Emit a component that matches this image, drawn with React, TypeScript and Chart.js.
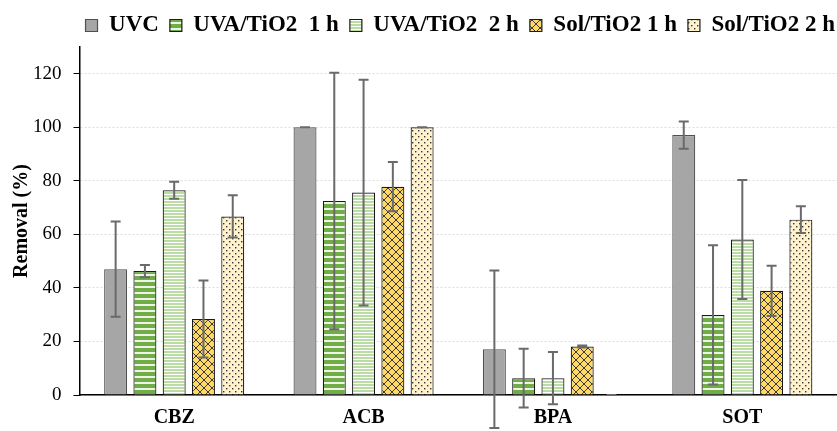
import React, { useEffect, useRef } from "react";
import { Chart, registerables } from "chart.js";

Chart.register(...registerables);

const categories = ["CBZ", "ACB", "BPA", "SOT"];
const seriesNames = ["UVC", "UVA/TiO2  1 h", "UVA/TiO2  2 h", "Sol/TiO2 1 h", "Sol/TiO2 2 h"];
const uvc = [47, 100, 17.1, 97.1];
const uvcErr = [17.8, 0, 29.4, 5.1];
const uva1 = [46.3, 72.5, 6.3, 29.9];
const uva1Err = [2.3, 47.9, 11, 26];
const uva2 = [76.5, 75.6, 6.3, 58.1];
const uva2Err = [3.2, 42.2, 9.8, 22.2];
const sol1 = [28.4, 77.8, 18.1, 38.9];
const sol1Err = [14.4, 9.2, 0.4, 9.4];
const sol2 = [66.7, 100, 0, 65.5];
const sol2Err = [7.9, 0, 0, 5];
const yTicks = [0, 20, 40, 60, 80, 100, 120];

const FONT = "'Liberation Serif', 'Times New Roman', serif";

function makePattern(kind: string): CanvasPattern | string {
  const c = document.createElement("canvas");
  const ctx = c.getContext("2d")!;
  if (kind === "uva1") {
    c.width = 6; c.height = 6;
    ctx.fillStyle = "#70ad47"; ctx.fillRect(0, 0, 6, 6);
    ctx.fillStyle = "#eef5e8"; ctx.fillRect(0, 4, 6, 2);
  } else if (kind === "uva2") {
    c.width = 3; c.height = 3;
    ctx.fillStyle = "#ffffff"; ctx.fillRect(0, 0, 3, 3);
    ctx.fillStyle = "#bcdca6"; ctx.fillRect(0, 0, 3, 2);
  } else if (kind === "sol1") {
    c.width = 8; c.height = 8;
    ctx.fillStyle = "#ffd966"; ctx.fillRect(0, 0, 8, 8);
    ctx.strokeStyle = "#3a3a3a"; ctx.lineWidth = 1;
    ctx.beginPath();
    ctx.moveTo(-1, -1); ctx.lineTo(9, 9);
    ctx.moveTo(9, -1); ctx.lineTo(-1, 9);
    ctx.stroke();
  } else {
    c.width = 6; c.height = 6;
    ctx.fillStyle = "#fff2cc"; ctx.fillRect(0, 0, 6, 6);
    ctx.fillStyle = "#333333";
    ctx.fillRect(1, 1, 1.4, 1.4);
    ctx.fillRect(4, 4, 1.4, 1.4);
  }
  return ctx.createPattern(c, "repeat")!;
}

const errorBarPlugin = {
  id: "errorBars",
  afterLayout(chart: any) {
    // nudge legend to sit flush with the right edge like the reference
    if (chart.legend) {
      chart.legend.left += 9;
      chart.legend.right += 9;
    }
  },
  afterDatasetsDraw(chart: any) {
    const ctx = chart.ctx;
    const yScale = chart.scales.y;
    ctx.save();
    ctx.strokeStyle = "#6a6a6a";
    ctx.lineWidth = 2;
    chart.data.datasets.forEach((ds: any, di: number) => {
      const meta = chart.getDatasetMeta(di);
      meta.data.forEach((bar: any, i: number) => {
        const v = ds.data[i];
        const e = ds.errors[i];
        const x = bar.x;
        const yTop = yScale.getPixelForValue(v + e);
        const yBot = yScale.getPixelForValue(v - e);
        const cap = 5;
        ctx.beginPath();
        ctx.moveTo(x, yTop); ctx.lineTo(x, yBot);
        ctx.moveTo(x - cap, yTop); ctx.lineTo(x + cap, yTop);
        ctx.moveTo(x - cap, yBot); ctx.lineTo(x + cap, yBot);
        ctx.stroke();
      });
    });
    ctx.restore();
  },
};

export default function App() {
  const ref = useRef<HTMLCanvasElement>(null);
  useEffect(() => {
    const values = [uvc, uva1, uva2, sol1, sol2];
    const errs = [uvcErr, uva1Err, uva2Err, sol1Err, sol2Err];
    const fills = ["#a6a6a6", makePattern("uva1"), makePattern("uva2"), makePattern("sol1"), makePattern("sol2")];
    const borders = ["#505050", "#1a1a1a", "#1a1a1a", "#1a1a1a", "#1a1a1a"];
    const chart = new Chart(ref.current!, {
      type: "bar",
      data: {
        labels: categories,
        datasets: seriesNames.map((name, k) => ({
          label: name,
          data: values[k],
          errors: errs[k],
          backgroundColor: fills[k],
          borderColor: borders[k],
          borderWidth: 1.2,
          categoryPercentage: 0.773,
          barPercentage: 0.785,
        })) as any,
      },
      options: {
        animation: false,
        responsive: true,
        maintainAspectRatio: false,
        layout: { padding: { left: 0, right: 0, top: 3, bottom: -2 } },
        plugins: {
          tooltip: { enabled: false },
          legend: {
            position: "top",
            align: "end",
            labels: {
              boxWidth: 12,
              boxHeight: 12,
              padding: 11,
              color: "#000",
              font: { family: FONT, size: 23, weight: "bold" },
            },
          },
        },
        scales: {
          x: {
            grid: { display: false },
            border: { display: true, color: "#000", width: 1.5 },
            ticks: { color: "#000", padding: 3, font: { family: FONT, size: 20, weight: "bold" } },
          },
          y: {
            min: 0,
            max: 130,
            afterBuildTicks: (axis: any) => {
              axis.ticks = yTicks.map((v) => ({ value: v }));
            },
            grid: { color: "#dcdcdc", tickColor: "#000", tickLength: 6, lineWidth: 1 },
            border: { display: true, color: "#000", width: 1.5, dash: [2, 2] },
            ticks: { color: "#000", padding: 12, font: { family: FONT, size: 19 } },
            title: {
              display: true,
              text: "Removal (%)",
              color: "#000",
              padding: { top: 12, bottom: -11 },
              font: { family: FONT, size: 20, weight: "bold", lineHeight: 1 },
            },
          },
        },
      },
      plugins: [errorBarPlugin],
    });
    return () => chart.destroy();
  }, []);
  return (
    <div style={{ position: "fixed", left: 0, top: 0, width: 837, height: 431, background: "#fff" }}>
      <canvas ref={ref} />
    </div>
  );
}
